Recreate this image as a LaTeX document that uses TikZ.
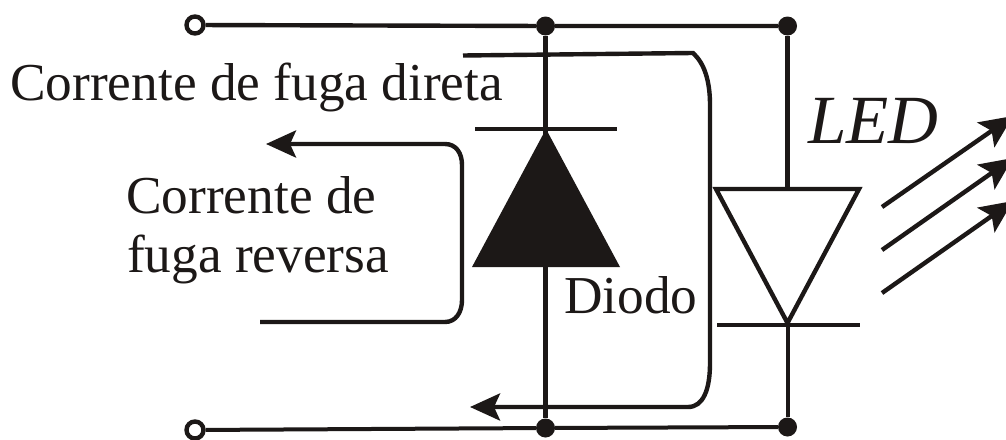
\documentclass[tikz,border=0pt]{standalone}
\usepackage{fontspec}
\setmainfont{Liberation Serif}
\usetikzlibrary{arrows.meta}
\definecolor{ink}{HTML}{1C1817}
\tikzset{
  x=1pt,y=-1pt,
  wire/.style={draw=ink,line width=4.4pt},
  thin wire/.style={draw=ink,line width=4pt},
  junction/.style={circle,fill=ink,draw=none,minimum width=18pt,minimum height=19pt,inner sep=0pt},
  terminal/.style={circle,fill=white,draw=ink,line width=4.4pt,minimum size=17pt,inner sep=0pt},
  label/.style={text=ink,inner sep=0pt,anchor=base west,font=\fontsize{53.3}{60}\selectfont},
  head/.style={-{Stealth[length=30pt,width=27pt,inset=6pt,color=ink]}},
  ray/.style={wire,-{Stealth[length=33pt,width=30pt,inset=7pt,color=ink]}},
}
\begin{document}
\begin{tikzpicture}
\useasboundingbox (0,0) rectangle (1006,439);
\fill[white] (0,0) rectangle (1006,439);
% junctions and terminals
\node[terminal] (tl) at (195,25) {};
\node[terminal] (bl) at (195,430) {};
\node[junction] (t1) at (545.5,26) {};
\node[junction] (t2) at (787.5,26) {};
\node[junction] (b1) at (545.5,428) {};
\node[junction] (b2) at (787.5,427) {};
% rails
\draw[wire] (tl) -- (t1) -- (t2);
\draw[thin wire] (bl) -- (b1) -- (b2);
% diode
\coordinate (dapex) at (546,129);
\coordinate (dl) at (472,267);
\coordinate (dr) at (620,267);
\fill[ink] (dapex) -- (dr) -- (dl) -- cycle;
\draw[wire] (t1) -- (b1);
\coordinate (dbl) at (475,129);
\coordinate (dbr) at (617,129);
\draw[wire] (dbl) -- (dbr);
% LED
\coordinate (lapex) at (787.5,323);
\coordinate (ll) at (716,189);
\coordinate (lr) at (859,189);
\draw[wire,line join=miter] (ll) -- (lr) -- (lapex) -- cycle;
\draw[wire] (t2) -- (787.5,189);
\draw[thin wire] (787.5,325) -- (b2);
\coordinate (lbl) at (717,325);
\coordinate (lbr) at (860,325);
\draw[wire] (lbl) -- (lbr);
% forward leakage
\coordinate (fs) at (463,55.5);
\coordinate (fe) at (470,407);
\draw[wire,head] (fs) -- (693,53) .. controls (704,63) and (710,80) .. (710,105)
  -- (710,363) .. controls (710,390) and (703,407) .. (688,407) -- (fe);
% reverse leakage
\coordinate (rs) at (260,322);
\coordinate (re) at (266,144);
\draw[wire,head] (rs) -- (445,322) .. controls (456,322) and (462,312) .. (462,300)
  -- (462,165) .. controls (462,153) and (456,144) .. (445,144) -- (re);
% light rays
\coordinate (a1) at (882,207); \coordinate (a1e) at (1013,116);
\coordinate (a2) at (882,250); \coordinate (a2e) at (1013,158);
\coordinate (a3) at (882,293); \coordinate (a3e) at (1013,201);
\draw[ray] (a1) -- (a1e);
\draw[ray] (a2) -- (a2e);
\draw[ray] (a3) -- (a3e);
% labels
\node[label] (direta) at (10,100) {Corrente de fuga direta};
\node[label] (rev1) at (126,213) {Corrente de};
\node[label] (rev2) at (127,272) {fuga reversa};
\node[label] (diodo) at (564,313) {Diodo};
\node[label,font=\fontsize{69}{70}\selectfont\itshape] (led) at (808,143) {LED};
\end{tikzpicture}
\end{document}
